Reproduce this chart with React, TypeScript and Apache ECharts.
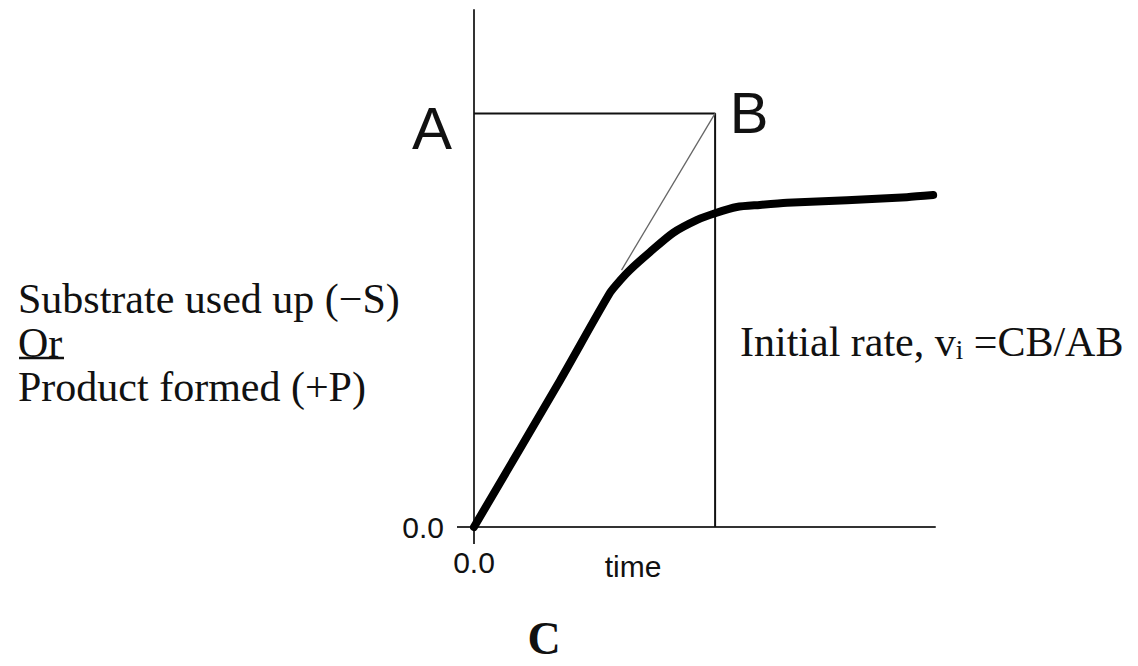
import React, { useEffect, useRef } from "react";
import * as echarts from "echarts";

const curveX = [0, 1.87, 2.95, 3.17, 3.38, 3.82, 4.32, 4.84, 5.23, 5.7, 6.2, 6.79, 8.09, 9.39, 9.96];
const curveY = [0, 2.84, 4.53, 4.77, 4.97, 5.32, 5.69, 5.94, 6.07, 6.19, 6.23, 6.27, 6.32, 6.38, 6.42];
const pointA = [0, 8];
const pointB = [5.23, 8];
const pointC = [5.23, 0];
const tangentStart = [3.2, 4.97];
const axisTickValues = [0];
const leftLines = ["Substrate used up (\u2212S)", "Or", "Product formed (+P)"];

export default function App() {
  const ref = useRef<HTMLDivElement>(null);
  useEffect(() => {
    const chart = echarts.init(ref.current!, null, { renderer: "svg" });
    const serif = "Liberation Serif";
    const sans = "Liberation Sans";
    chart.setOption({
      animation: false,
      backgroundColor: "#fff",
      grid: { left: 474, top: 10, width: 461, height: 517, containLabel: false },
      xAxis: {
        type: "value", min: 0, max: 10, interval: 10,
        axisLine: { show: true, lineStyle: { color: "#333", width: 2 } },
        axisTick: { show: true, length: 17, customValues: axisTickValues, lineStyle: { color: "#333", width: 2 } },
        axisLabel: { show: true, customValues: axisTickValues, formatter: () => "0.0", margin: 20, fontFamily: sans, fontSize: 30, color: "#111" },
        splitLine: { show: false },
      },
      yAxis: {
        type: "value", min: 0, max: 10, interval: 10,
        axisLine: { show: true, lineStyle: { color: "#333", width: 2 } },
        axisTick: { show: true, length: 17, customValues: axisTickValues, lineStyle: { color: "#333", width: 2 } },
        axisLabel: { show: true, customValues: axisTickValues, formatter: () => "0.0", margin: 30, fontFamily: sans, fontSize: 30, color: "#111" },
        splitLine: { show: false },
      },
      series: [
        {
          type: "line", data: [pointA, pointB, pointC], symbol: "none", clip: false,
          lineStyle: { color: "#111", width: 2 },
        },
        {
          type: "line", data: [tangentStart, pointB], symbol: "none", clip: false,
          lineStyle: { color: "#666", width: 1.3 },
        },
        {
          type: "line", data: curveX.map((x, i) => [x, curveY[i]]), symbol: "none", clip: false,
          smooth: 0.25,
          lineStyle: { color: "#000", width: 8, cap: "round", join: "round" },
        },
      ],
      graphic: [
        ...leftLines.map((t, i) => ({
          type: "text", left: 18, top: 278 + i * 44,
          style: { text: t, fontFamily: serif, fontSize: 42, fill: "#111" },
        })),
        { type: "line", shape: { x1: 19, y1: 358, x2: 64, y2: 358 }, style: { stroke: "#111", lineWidth: 2.5 } },
        {
          type: "text", left: 740, top: 320,
          style: {
            text: "{a|Initial rate, v}{s|i}{a| =CB/AB}",
            rich: {
              a: { fontFamily: serif, fontSize: 42, fill: "#111", lineHeight: 46 },
              s: { fontFamily: serif, fontSize: 27, fill: "#111", lineHeight: 46, padding: [16, 0, 0, 0] },
            },
          },
        },
        { type: "text", x: 432, y: 128, style: { text: "A", fontFamily: sans, fontSize: 60, fill: "#111", align: "center", verticalAlign: "middle" } },
        { type: "text", x: 749, y: 112, style: { text: "B", fontFamily: sans, fontSize: 58, fill: "#111", align: "center", verticalAlign: "middle" } },
        { type: "text", x: 544, y: 638, style: { text: "C", fontFamily: serif, fontWeight: "bold", fontSize: 46, fill: "#111", align: "center", verticalAlign: "middle" } },
        { type: "text", x: 633, y: 566, style: { text: "time", fontFamily: sans, fontSize: 30, fill: "#111", align: "center", verticalAlign: "middle" } },
      ],
    });
    return () => chart.dispose();
  }, []);
  return <div ref={ref} style={{ position: "fixed", left: 0, top: 0, width: 1138, height: 666 }} />;
}
